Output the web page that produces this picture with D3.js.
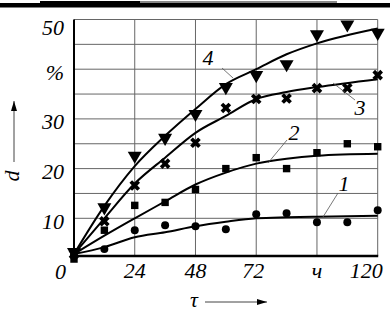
<!DOCTYPE html>
<html>
<head>
<meta charset="utf-8">
<script src="https://cdn.jsdelivr.net/npm/d3@7"></script>
<style>
  body { margin: 0; background: #fff; }
</style>
</head>
<body>
<div id="chart"></div>
<script>
// measured points, tau in hours, d in %
const tauPts = [0, 12, 24, 36, 48, 60, 72, 84, 96, 108, 120];
const s1 = [2.6, 3.8, 7.6, 8.6, 8.4, 7.8, 10.8, 11, 9.2, 9.2, 11.6];
const s2 = [1.8, 7.6, 12.6, 13.2, 15.8, 20, 22.2, 20, 23.2, 25, 24.4];
const s3 = [2.8, 9.4, 16.6, 21, 25.2, 32.2, 34, 34.1, 36.2, 36.2, 38.8];
const s4 = [3.2, 12.2, 22.6, 26.2, 31, 36.4, 38.8, 41, 47, 49, 47.3];

// fitted curves
const curveTau = [0, 12, 24, 36, 48, 60, 72, 84, 96, 120];
const c1 = [2.8, 4.2, 6.2, 7.2, 8.4, 9.3, 10, 10.2, 10.3, 10.5];
const c2 = [2.8, 6.5, 10, 13.4, 16.8, 19.2, 21, 22, 22.6, 23];
const c3 = [2.8, 10, 17, 22.2, 27.2, 30.6, 34, 35.4, 36.4, 38];
const c4 = [2.8, 12.5, 20.5, 26.6, 32, 37, 40, 43, 45.2, 48.2];

const xTicks = [24, 48, 72, 96, 120];
const xTickLabels = ["24", "48", "72", "ч", "120"];
const yTicks = [50, 40, 30, 20, 10, 0];
const yTickLabels = ["50", "%", "30", "20", "10", "0"];
const yGrid = [10, 15, 20, 25, 30, 35, 40, 45, 50];

const W = 390, H = 312;
const svg = d3.select("#chart").append("svg")
  .attr("width", W).attr("height", H)
  .attr("font-family", "'Liberation Serif', 'Times New Roman', serif")
  .attr("font-style", "italic");

const x = d3.scaleLinear().domain([0, 120]).range([74, 377.7]);
const y = d3.scaleLinear().domain([0, 50]).range([268, 19.5]);
const yBase = y(2.4);

// page header rule
svg.append("rect").attr("x", 0).attr("y", 3).attr("width", W).attr("height", 4.5).attr("fill", "#000");
svg.append("rect").attr("x", 40).attr("y", 1).attr("width", 100).attr("height", 2.5).attr("fill", "#000");
svg.append("rect").attr("x", 140).attr("y", 1).attr("width", 197).attr("height", 2).attr("fill", "#888");

// grid
svg.append("g").selectAll("line").data(yGrid).join("line")
  .attr("x1", x(0)).attr("x2", x(120))
  .attr("y1", d => y(d)).attr("y2", d => y(d))
  .attr("stroke", "#666").attr("stroke-width", 1);
svg.append("g").selectAll("line").data(xTicks).join("line")
  .attr("x1", d => x(d)).attr("x2", d => x(d))
  .attr("y1", y(50)).attr("y2", yBase)
  .attr("stroke", "#666").attr("stroke-width", 1);

// axes
svg.append("line").attr("x1", x(0)).attr("x2", x(0)).attr("y1", y(50)).attr("y2", yBase + 1)
  .attr("stroke", "#000").attr("stroke-width", 2);
svg.append("line").attr("x1", x(0) - 1).attr("x2", x(120) + 0.5).attr("y1", yBase).attr("y2", yBase)
  .attr("stroke", "#000").attr("stroke-width", 2.5);

// tick labels
svg.append("g").selectAll("text").data(yTicks).join("text")
  .attr("x", d => d === 0 ? 66 : 64)
  .attr("y", d => Math.max(y(d) + 3, 27))
  .attr("text-anchor", "end")
  .attr("dominant-baseline", "central")
  .attr("font-size", 22)
  .text((d, i) => yTickLabels[i]);

svg.append("g").selectAll("text").data(xTicks).join("text")
  .attr("x", d => d === 120 ? x(d) + 5 : x(d) - (d === 72 ? 3 : 0))
  .attr("y", 278)
  .attr("text-anchor", d => d === 120 ? "end" : "middle")
  .attr("font-size", 22)
  .text((d, i) => xTickLabels[i]);

// axis titles with arrows
svg.append("defs").append("marker")
  .attr("id", "arr").attr("viewBox", "0 0 10 6").attr("refX", 10).attr("refY", 3)
  .attr("markerWidth", 10).attr("markerHeight", 6).attr("markerUnits", "userSpaceOnUse")
  .attr("orient", "auto")
  .append("path").attr("d", "M0,0L10,3L0,6Z").attr("fill", "#000");

svg.append("line").attr("x1", 14).attr("x2", 14).attr("y1", 162).attr("y2", 101)
  .attr("stroke", "#444").attr("stroke-width", 1).attr("marker-end", "url(#arr)");
svg.append("text").attr("transform", "translate(19,176) rotate(-90)")
  .attr("text-anchor", "middle").attr("font-size", 22).text("d");

svg.append("line").attr("x1", 205).attr("x2", 267).attr("y1", 302).attr("y2", 302)
  .attr("stroke", "#444").attr("stroke-width", 1).attr("marker-end", "url(#arr)");
svg.append("text").attr("x", 194).attr("y", 307)
  .attr("text-anchor", "middle").attr("font-size", 22).text("τ");

// curves
const line = d3.line()
  .x((d, i) => x(curveTau[i]))
  .y(d => y(d))
  .curve(d3.curveMonotoneX);
[c1, c2, c3, c4].forEach(c => {
  svg.append("path").datum(c).attr("d", line)
    .attr("fill", "none").attr("stroke", "#000").attr("stroke-width", 2);
});

// markers
const markers = [
  { data: s1, sym: d3.symbolCircle, size: 50, rot: 0 },
  { data: s2, sym: d3.symbolSquare, size: 55, rot: 0 },
  { data: s3, sym: d3.symbolCross, size: 70, rot: 45 },
  { data: s4, sym: d3.symbolTriangle, size: 85, rot: 180 }
];
markers.forEach(m => {
  svg.append("g").selectAll("path").data(m.data).join("path")
    .attr("d", d3.symbol().type(m.sym).size(m.size))
    .attr("transform", (d, i) => `translate(${x(tauPts[i])},${y(d)}) rotate(${m.rot})`)
    .attr("fill", "#000");
});

// curve labels with leaders
const curveLabels = [
  { t: "4", lx: 208, ly: 57, a: [222, 68, 233, 78] },
  { t: "3", lx: 360, ly: 107, a: [333, 83, 355, 100] },
  { t: "2", lx: 294, ly: 132, a: [287, 140, 268, 163] },
  { t: "1", lx: 344, ly: 183, a: [338, 193, 323, 217] }
];
curveLabels.forEach(c => {
  svg.append("line").attr("x1", c.a[0]).attr("y1", c.a[1]).attr("x2", c.a[2]).attr("y2", c.a[3])
    .attr("stroke", "#555").attr("stroke-width", 0.8);
  svg.append("text").attr("x", c.lx).attr("y", c.ly)
    .attr("text-anchor", "middle").attr("dominant-baseline", "central")
    .attr("font-size", 22).text(c.t);
});
</script>
</body>
</html>
